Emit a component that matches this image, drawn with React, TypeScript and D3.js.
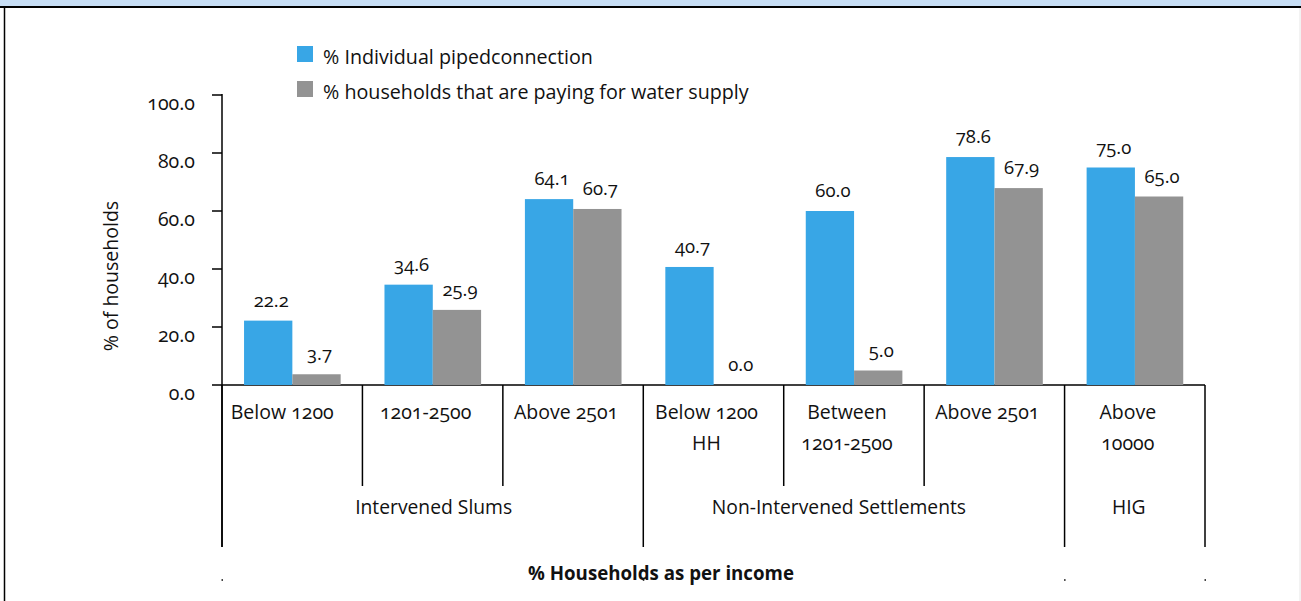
import React from "react";
import * as d3 from "d3";

const categoryLines: string[][] = [
  ["Below 1200"],
  ["1201-2500"],
  ["Above 2501"],
  ["Below 1200", "HH"],
  ["Between", "1201-2500"],
  ["Above 2501"],
  ["Above", "10000"],
];
const groupNames = ["Intervened Slums", "Non-Intervened Settlements", "HIG"];
const groupSizes = [3, 3, 1];
const seriesNames = ["% Individual pipedconnection", "% households that are paying for water supply"];
const pipedValues = [22.2, 34.6, 64.1, 40.7, 60.0, 78.6, 75.0];
const payingValues = [3.7, 25.9, 60.7, 0.0, 5.0, 67.9, 65.0];
const yTicks = [0, 20, 40, 60, 80, 100];
const yTitle = "% of households";
const xTitle = "% Households as per income";

const COLORS = ["#38a6e6", "#939393"];
const FONT = "'Open Sans', 'Noto Sans', sans-serif";
const GROUP_LABEL_SHIFT = [1, -15, -6];

export default function App() {
  const W = 1301, H = 601;
  const left = 222, right = 1205, top = 95, bottom = 385;
  const idx = categoryLines.map((_, i) => String(i));
  const x = d3.scaleBand<string>().domain(idx).range([left, right]).padding(0);
  const bw = x.bandwidth();
  const inner = d3.scaleBand<string>().domain(["0", "1"]).range([bw * 0.157, bw * 0.845]).padding(0);
  const y = d3.scaleLinear().domain([0, 100]).range([bottom, top]);
  const series = [pipedValues, payingValues];

  const bounds: number[] = [0];
  groupSizes.forEach((s) => bounds.push(bounds[bounds.length - 1] + s));
  const boundaryX = (i: number) => (i >= idx.length ? right : (x(String(i)) as number));
  const isGroupBoundary = (i: number) => bounds.includes(i);

  return (
    <svg
      width={W}
      height={H}
      style={{ position: "absolute", left: 0, top: 0, background: "#fff", fontVariantNumeric: "oldstyle-nums" }}
      fontFamily={FONT}
    >
      <rect x={0} y={0} width={W} height={6} fill="#c7def5" />
      <line x1={0} x2={W} y1={7} y2={7} stroke="#000" strokeWidth={2} />
      <line x1={4.5} x2={4.5} y1={7} y2={H} stroke="#000" strokeWidth={1.5} />
      <line x1={1300} x2={1300} y1={8} y2={H} stroke="#e6e6e6" strokeWidth={1} />

      {/* legend */}
      {seriesNames.map((n, i) => (
        <g key={n} transform={`translate(297, ${46 + i * 35})`}>
          <rect x={0} y={0} width={16} height={16} fill={COLORS[i]} />
          <text x={26} y={17.5} fontSize={19.7} fill="#111">{n}</text>
        </g>
      ))}

      {/* y axis */}
      <line x1={left} x2={left} y1={top - 1} y2={547} stroke="#000" strokeWidth={1.5} />
      {yTicks.map((t) => (
        <g key={t}>
          <line x1={left - 10} x2={left} y1={y(t)} y2={y(t)} stroke="#000" strokeWidth={1.5} />
          <text x={195} y={y(t) + 14.5} textAnchor="end" fontSize={19.5} fill="#111">{t.toFixed(1)}</text>
        </g>
      ))}
      <text transform={`translate(118, ${276}) rotate(-90)`} textAnchor="middle" fontSize={19.5} fill="#111">{yTitle}</text>

      <line x1={left} x2={right} y1={bottom} y2={bottom} stroke="#000" strokeWidth={1.5} />

      {/* bars */}
      {idx.map((c, ci) => (
        <g key={c}>
          {series.map((vals, si) => {
            const bx = (x(c) as number) + (inner(String(si)) as number);
            const v = vals[ci];
            const by = y(v);
            return (
              <g key={si}>
                <rect x={bx} y={by} width={inner.bandwidth()} height={bottom - by} fill={COLORS[si]} />
                <text x={bx + inner.bandwidth() / 2 + 3} y={by - 14} textAnchor="middle" fontSize={18.5} fill="#111">{v.toFixed(1)}</text>
              </g>
            );
          })}
        </g>
      ))}

      {/* category dividers */}
      {d3.range(idx.length + 1).map((i) => (
        <line key={i} x1={boundaryX(i)} x2={boundaryX(i)} y1={bottom} y2={isGroupBoundary(i) ? 547 : 486} stroke="#000" strokeWidth={1.5} />
      ))}
      {categoryLines.map((lines, ci) => (
        <text key={ci} textAnchor="middle" fontSize={19.5} fill="#111">
          {lines.map((l, li) => (
            <tspan key={li} x={(x(String(ci)) as number) + bw / 2 - (ci === 0 ? 10 : 7)} y={419 + li * 31}>{l}</tspan>
          ))}
        </text>
      ))}
      {groupNames.map((g, gi) => {
        const x0 = boundaryX(bounds[gi]);
        const x1 = boundaryX(bounds[gi + 1]);
        return (
          <text key={g} x={(x0 + x1) / 2 + GROUP_LABEL_SHIFT[gi]} y={514} textAnchor="middle" fontSize={19.3} fill="#111">{g}</text>
        );
      })}
      {bounds.map((b) => (
        <rect key={b} x={boundaryX(b) - 0.5} y={579} width={1.5} height={2} fill="#444" />
      ))}
      <text x={661} y={580} textAnchor="middle" fontSize={18.7} fontWeight="bold" fill="#111">{xTitle}</text>
    </svg>
  );
}
